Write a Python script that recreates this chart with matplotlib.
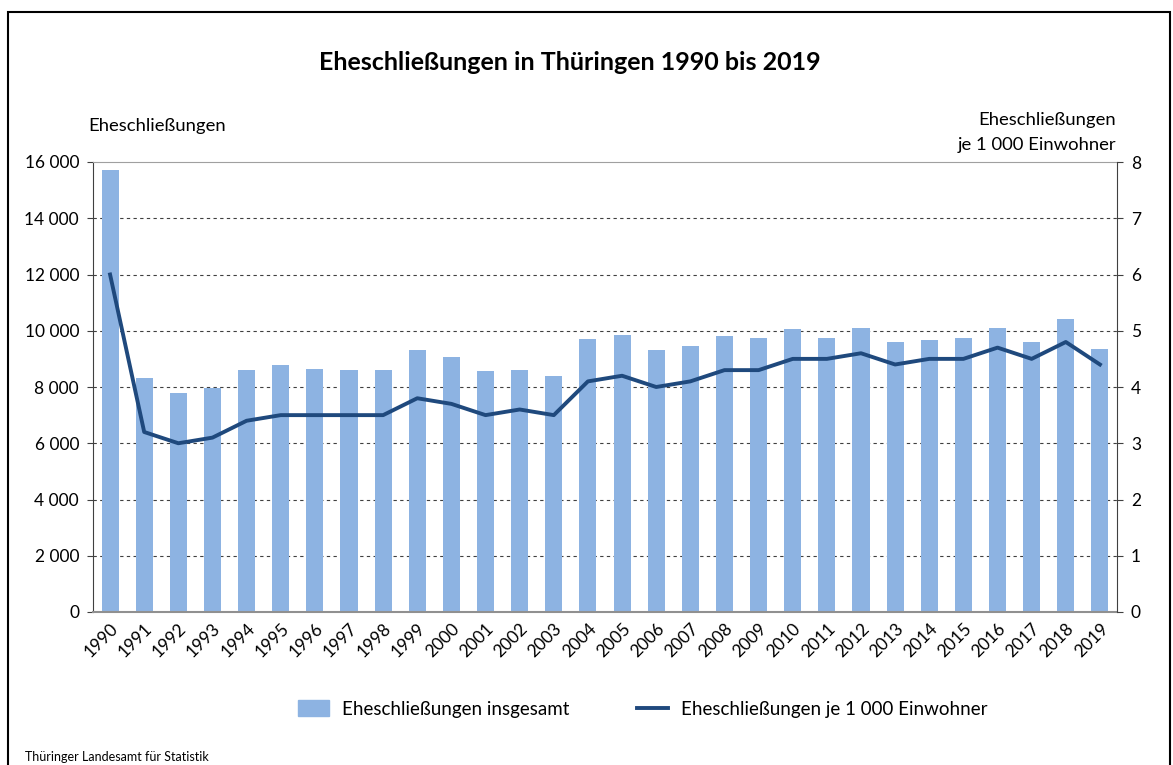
import numpy as np
import matplotlib
matplotlib.use("Agg")
from matplotlib import pyplot as plt
from matplotlib.patches import Rectangle
from matplotlib.lines import Line2D
from matplotlib.ticker import FuncFormatter

plt.rcParams['font.family'] = ['Lato', 'DejaVu Sans']

# data
years = [str(y) for y in range(1990, 2020)]
ehen = [15700, 8320, 7780, 7960, 8590, 8780, 8640, 8620, 8590, 9300,
        9060, 8570, 8590, 8380, 9690, 9840, 9300, 9450, 9810, 9750,
        10070, 9750, 10110, 9590, 9670, 9750, 10110, 9610, 10410, 9340]
je_1000 = [6.0, 3.2, 3.0, 3.1, 3.4, 3.5, 3.5, 3.5, 3.5, 3.8,
           3.7, 3.5, 3.6, 3.5, 4.1, 4.2, 4.0, 4.1, 4.3, 4.3,
           4.5, 4.5, 4.6, 4.4, 4.5, 4.5, 4.7, 4.5, 4.8, 4.4]

bar_color = '#8DB3E2'
line_color = '#1F497D'

W, H = 1173, 765
fig = plt.figure(figsize=(W / 100, H / 100), dpi=100)
ax = fig.add_axes([93 / W, 1 - 612 / H, (1117 - 93) / W, (612 - 162) / H])
x = np.arange(len(years))

ax.bar(x, ehen, width=0.5, color=bar_color, zorder=2)
ax.set_xlim(-0.5, len(years) - 0.5)
ax.set_ylim(0, 16000)
ax.set_yticks(np.arange(0, 16001, 2000))
ax.yaxis.set_major_formatter(FuncFormatter(lambda v, p: f"{int(v):,}".replace(",", " ")))
ax.set_xticks(x)
ax.set_xticklabels(years, rotation=45, ha='right', rotation_mode='anchor', fontsize=12.5)
ax.tick_params(axis='x', length=0, pad=6)
ax.tick_params(axis='y', labelsize=12.5, length=4, color='#404040', pad=6)
for v in range(2000, 16000, 2000):
    ax.axhline(v, color='#404040', lw=0.8, ls=(0, (3, 3)), zorder=1)
ax.spines['top'].set_color('#A0A0A0')
ax.spines['bottom'].set_color('#909090')
ax.spines['bottom'].set_linewidth(1.5)
ax.spines['left'].set_color('#404040')
ax.spines['right'].set_visible(False)

ax2 = ax.twinx()
ax2.plot(x, je_1000, color=line_color, lw=2.8, zorder=3)
ax2.set_ylim(0, 8)
ax2.set_yticks(range(0, 9))
ax2.tick_params(axis='y', labelsize=12.5, length=4, color='#404040', pad=6)
ax2.spines['right'].set_color('#404040')
for s in ['top', 'left', 'bottom']:
    ax2.spines[s].set_visible(False)

fig.text(570 / W, 1 - 62 / H, 'Eheschließungen in Thüringen 1990 bis 2019',
         ha='center', va='center', fontsize=18, fontweight='bold')
fig.text(88 / W, 1 - 126 / H, 'Eheschließungen', ha='left', va='center', fontsize=13.3)
fig.text(1116 / W, 1 - 120 / H, 'Eheschließungen', ha='right', va='center', fontsize=13.3)
fig.text(1116 / W, 1 - 145 / H, 'je 1 000 Einwohner', ha='right', va='center', fontsize=13.3)
fig.text(25 / W, 1 - 757 / H, 'Thüringer Landesamt für Statistik', ha='left', va='center', fontsize=9)

# legend
handles = [Rectangle((0, 0), 1, 1, color=bar_color),
           Line2D([0], [0], color=line_color, lw=2.8)]
fig.legend(handles, ['Eheschließungen insgesamt', 'Eheschließungen je 1 000 Einwohner'],
           loc='center', bbox_to_anchor=(643 / W, 1 - 709 / H), ncol=2, frameon=False,
           fontsize=13.5, columnspacing=3.6, handlelength=1.65, handletextpad=0.7,
           handleheight=0.9)

# outer frame
fig.add_artist(Rectangle((8 / W, -0.05), (1170 - 8) / W, 1.05 - 12 / H,
                         transform=fig.transFigure, fill=False, ec='black', lw=1.5))

fig.savefig('out.png', dpi=100)
